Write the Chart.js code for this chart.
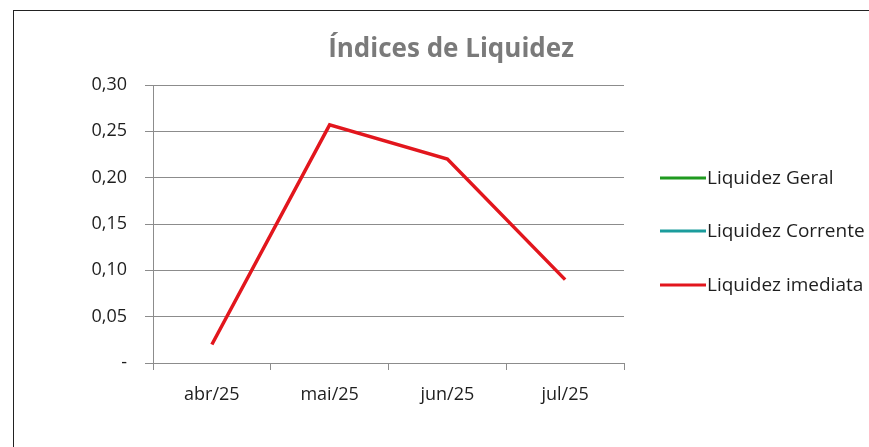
<!DOCTYPE html>
<html>
<head>
<meta charset="utf-8">
<script src="https://cdn.jsdelivr.net/npm/chart.js@4.4.1/dist/chart.umd.min.js"></script>
<style>
    html, body { margin: 0; padding: 0; background: #fff; }
    #wrap { position: relative; width: 869px; height: 447px; overflow: hidden; }
    #frame { position: absolute; left: 13px; top: 10px; width: 900px; height: 460px; border-left: 1px solid #222; border-top: 1px solid #222; }
    canvas { position: absolute; left: 0; top: 0; }
</style>
</head>
<body>
<div id="wrap">
    <div id="frame"></div>
    <canvas id="chart1" width="869" height="447"></canvas>
</div>
<script>
// Índices de Liquidez
const meses = ["abr/25", "mai/25", "jun/25", "jul/25"];
const liquidezGeral = [null, null, null, null];
const liquidezCorrente = [null, null, null, null];
const liquidezImediata = [0.02, 0.257, 0.22, 0.09];

const series = [
    { label: "Liquidez Geral", data: liquidezGeral, color: "#1f9a1f" },
    { label: "Liquidez Corrente", data: liquidezCorrente, color: "#1b9c9c" },
    { label: "Liquidez imediata", data: liquidezImediata, color: "#e2161d" }
];

const fonte = "'Open Sans', sans-serif";

const extras = {
    id: "extras",
    afterDraw(chart) {
        const c = chart.ctx;
        c.save();
        // titulo
        c.fillStyle = "#7a7a7a";
        c.font = "bold 26px " + fonte;
        c.textAlign = "center";
        c.textBaseline = "middle";
        c.fillText("Índices de Liquidez", 451, 50);
        // legenda
        c.font = "19px " + fonte;
        c.textAlign = "left";
        const ys = [178, 231, 285];
        series.forEach((s, i) => {
            c.strokeStyle = s.color;
            c.lineWidth = 3;
            c.beginPath();
            c.moveTo(660, ys[i]);
            c.lineTo(706, ys[i]);
            c.stroke();
            c.fillStyle = "#1e1e1e";
            c.fillText(s.label, 707, ys[i] + 1);
        });
        c.restore();
    }
};

new Chart(document.getElementById("chart1"), {
    type: "line",
    data: {
        labels: meses,
        datasets: series.slice().reverse().map(s => ({
            label: s.label,
            data: s.data,
            borderColor: s.color,
            backgroundColor: s.color,
            borderWidth: 3.5,
            pointRadius: 0,
            tension: 0
        }))
    },
    options: {
        responsive: false,
        animation: false,
        layout: { padding: { left: 0, right: 245, top: 85, bottom: 0 } },
        plugins: {
            legend: { display: false },
            title: { display: false },
            tooltip: { enabled: false }
        },
        scales: {
            x: {
                offset: true,
                grid: { display: true, drawOnChartArea: false, offset: true, tickLength: 7, color: "#8c8c8c" },
                border: { color: "#8c8c8c" },
                ticks: { color: "#1e1e1e", padding: 14, font: { family: fonte, size: 18 }, maxRotation: 0 },
                afterFit: axis => { axis.height = 84; }
            },
            y: {
                min: 0,
                max: 0.30,
                grid: { color: "#8c8c8c", tickLength: 8 },
                border: { color: "#8c8c8c" },
                ticks: {
                    stepSize: 0.05,
                    color: "#1e1e1e",
                    padding: 18,
                    font: { family: fonte, size: 18 },
                    callback: v => Math.abs(v) < 1e-9 ? "-" : v.toFixed(2).replace(".", ",")
                },
                afterFit: axis => { axis.width = 153; }
            }
        }
    },
    plugins: [extras]
});
</script>
</body>
</html>
